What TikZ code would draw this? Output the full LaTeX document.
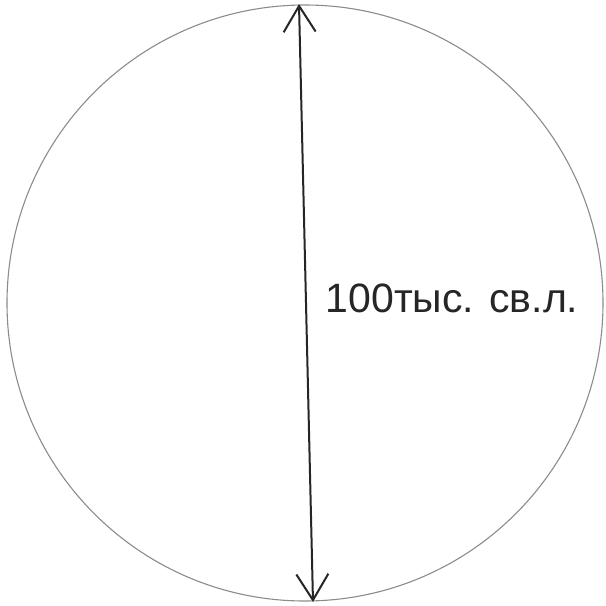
\documentclass[tikz,border=0pt]{standalone}
\usepackage{fontspec}
\setmainfont{Liberation Sans}
\usetikzlibrary{arrows.meta}

\begin{document}
\begin{tikzpicture}[x=1pt,y=-1pt,
  rim/.style={draw=black!45,line width=1.1pt},
  span/.style={line width=2pt,black!85,
    {Straight Barb[length=26pt,width=32pt,line width=2pt]}-{Straight Barb[length=26pt,width=32pt,line width=2pt]}},
  lbl/.style={font=\fontsize{41}{43}\selectfont,black!85,inner sep=0pt}]
\useasboundingbox (0,0) rectangle (606,606);
\colorlet{paper}{white}
\fill[paper] (0,0) rectangle (606,606);
% ---- galaxy disc ----
\draw[rim] (305,303) circle (298);
% ---- diameter ----
\coordinate (top) at (299,4);
\coordinate (bot) at (313,602);
\draw[span] (top) -- (bot);
\node[lbl] (size) at (452,298) {100тыс. св.л.};
\end{tikzpicture}
\end{document}
